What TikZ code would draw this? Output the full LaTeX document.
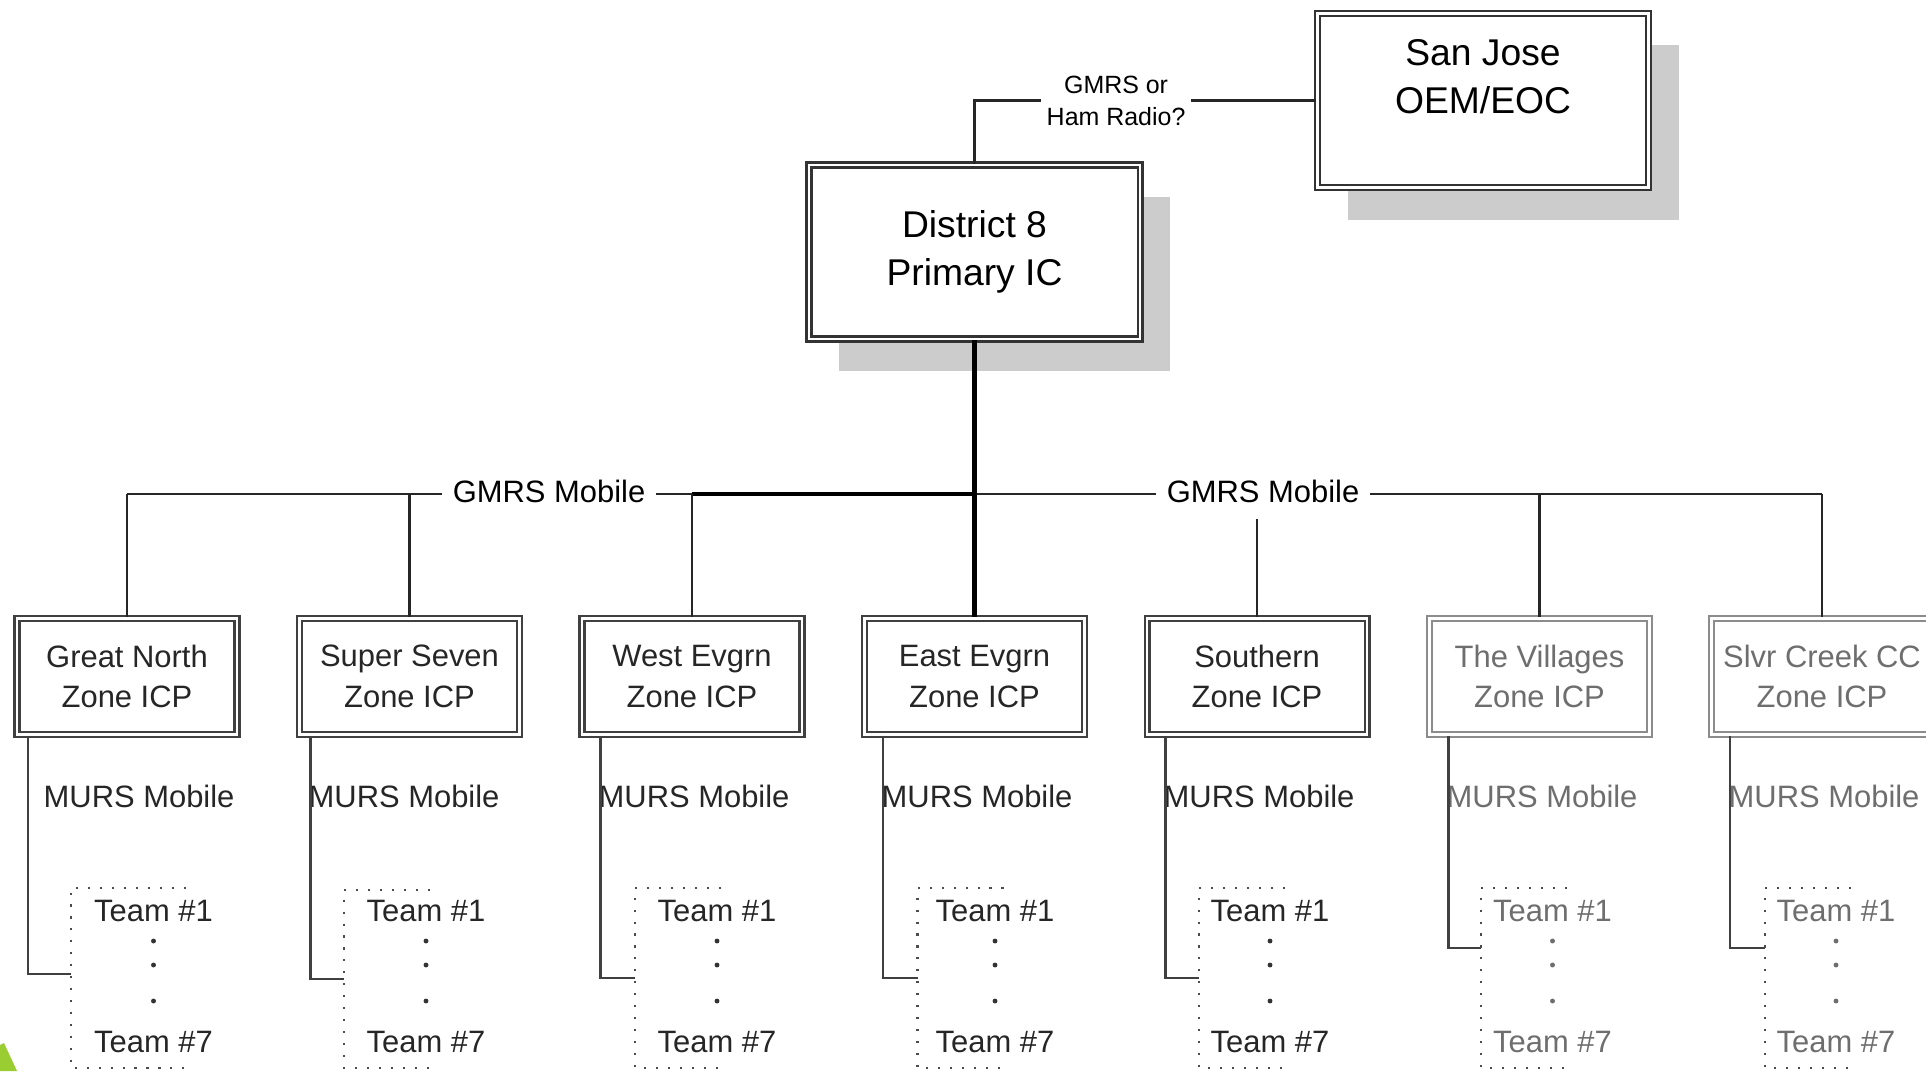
\documentclass[tikz,border=0pt]{standalone}
\usepackage{fontspec}
\setmainfont{Liberation Sans}
\usepackage{tikz}
\usetikzlibrary{shadows}
\definecolor{shade}{HTML}{CCCCCC}
\definecolor{dim}{HTML}{6E6E6E}
\definecolor{slide}{HTML}{9ACD32}
\tikzset{hq/.style={draw=black!80,fill=white,line width=0.6pt,double=white,double distance=0.8pt,minimum width=3.31cm,minimum height=1.74cm,align=center,font=\fontsize{10.6}{13.6}\selectfont,drop shadow={shadow xshift=0.3cm,shadow yshift=-0.32cm,fill=shade,opacity=1}}}
\tikzset{zone/.style={draw=black!75,fill=white,text=black!85,line width=0.6pt,double=white,double distance=0.8pt,minimum width=2.20cm,minimum height=1.16cm,align=center,font=\fontsize{8.8}{11.5}\selectfont}}
\tikzset{zonedim/.style={zone,draw=black!45,text=dim}}
\tikzset{murs/.style={anchor=west,inner sep=0pt,text=black!85,font=\fontsize{8.8}{11.5}\selectfont}}
\tikzset{team/.style={inner sep=0pt,text=black!85,font=\fontsize{8.8}{11.5}\selectfont}}
\tikzset{radio/.style={fill=white,align=center,inner sep=1.5pt,font=\fontsize{7.1}{9.1}\selectfont}}
\tikzset{buslbl/.style={fill=white,inner xsep=3pt,inner ysep=4.5pt,font=\fontsize{8.8}{11.5}\selectfont}}
\tikzset{busline/.style={draw=black!85,line width=0.8pt}}
\tikzset{trunk/.style={draw=black,line width=1.2pt}}
\tikzset{mursline/.style={draw=black!75,line width=0.6pt}}
\tikzset{grp/.style={draw=black!70,line width=0.8pt,dash pattern=on 0.6pt off 2.8pt}}

\begin{document}
\begin{tikzpicture}
    \useasboundingbox (0,0) rectangle (19.26,-10.71);
    \fill[slide] (0,-10.45) -- (0.04,-10.43) -- (0.17,-10.71) -- (0,-10.71) -- cycle;

    \node[hq] (sanjose) at (14.83,-1.005) {San Jose\\OEM/EOC\\\mbox{}};
    \node[hq] (district) at (9.745,-2.52) {District 8\\Primary IC};
    \draw[busline] (district.north) |- node[radio,pos=0.707] (radiolbl) {GMRS or\\Ham Radio?} (sanjose.west);

    \node[zone] (greatnorth) at (1.27,-6.765) {Great North\\Zone ICP};
    \node[zone] (superseven) at (4.095,-6.765) {Super Seven\\Zone ICP};
    \node[zone] (westevgrn) at (6.92,-6.765) {West Evgrn\\Zone ICP};
    \node[zone] (eastevgrn) at (9.745,-6.765) {East Evgrn\\Zone ICP};
    \node[zone] (southern) at (12.57,-6.765) {Southern\\Zone ICP};
    \node[zonedim] (villages) at (15.395,-6.765) {The Villages\\Zone ICP};
    \node[zonedim] (slvrcreek) at (18.22,-6.765) {Slvr Creek CC\\Zone ICP};

    \coordinate (bus) at (9.745,-4.94);
    \draw[busline] (greatnorth.north |- bus) -- (slvrcreek.north |- bus);
    \draw[trunk] (district.south) -- (bus) -- (westevgrn.north |- bus);
    \node[buslbl] (gmrsL) at (5.49,-4.91) {GMRS Mobile};
    \node[buslbl] (gmrsR) at (12.63,-4.91) {GMRS Mobile};
    \draw[busline] (greatnorth.north |- bus) -- (greatnorth.north);
    \draw[busline] (superseven.north |- bus) -- (superseven.north);
    \draw[busline] (westevgrn.north |- bus) -- (westevgrn.north);
    \draw[trunk] (bus) -- (eastevgrn.north);
    \draw[busline] (southern.north |- gmrsR.south) -- (southern.north);
    \draw[busline] (villages.north |- bus) -- (villages.north);
    \draw[busline] (slvrcreek.north |- bus) -- (slvrcreek.north);

    \node[murs] (gn-murs) at (0.43,-7.96) {MURS Mobile};
    \coordinate (gn-grp) at (0.71,-9.74);
    \draw[mursline] ([xshift=0.12cm]greatnorth.south west) |- (gn-grp);
    \draw[grp] (1.86,-8.88) -- (0.71,-8.88) -- (0.71,-10.68) -- (1.86,-10.68);
    \node[team] (gn-t1) at (1.535,-9.11) {Team \#1};
    \node[team] (gn-t7) at (1.535,-10.416) {Team \#7};
    \foreach \y in {-9.41,-9.65,-10.01} \fill[black!80] (1.535,\y) circle (0.7pt);

    \node[murs] (ss-murs) at (3.08,-7.96) {MURS Mobile};
    \coordinate (ss-grp) at (3.44,-9.79);
    \draw[mursline] ([xshift=0.12cm]superseven.south west) |- (ss-grp);
    \draw[grp] (4.30,-8.90) -- (3.44,-8.90) -- (3.44,-10.68) -- (4.30,-10.68);
    \node[team] (ss-t1) at (4.26,-9.11) {Team \#1};
    \node[team] (ss-t7) at (4.26,-10.416) {Team \#7};
    \foreach \y in {-9.41,-9.65,-10.01} \fill[black!80] (4.26,\y) circle (0.7pt);

    \node[murs] (we-murs) at (5.98,-7.96) {MURS Mobile};
    \coordinate (we-grp) at (6.35,-9.78);
    \draw[mursline] ([xshift=0.195cm]westevgrn.south west) |- (we-grp);
    \draw[grp] (7.21,-8.88) -- (6.35,-8.88) -- (6.35,-10.68) -- (7.21,-10.68);
    \node[team] (we-t1) at (7.17,-9.11) {Team \#1};
    \node[team] (we-t7) at (7.17,-10.416) {Team \#7};
    \foreach \y in {-9.41,-9.65,-10.01} \fill[black!80] (7.17,\y) circle (0.7pt);

    \node[murs] (ee-murs) at (8.81,-7.96) {MURS Mobile};
    \coordinate (ee-grp) at (9.175,-9.78);
    \draw[mursline] ([xshift=0.195cm]eastevgrn.south west) |- (ee-grp);
    \draw[grp] (10.035,-8.88) -- (9.175,-8.88) -- (9.175,-10.68) -- (10.035,-10.68);
    \node[team] (ee-t1) at (9.95,-9.11) {Team \#1};
    \node[team] (ee-t7) at (9.95,-10.416) {Team \#7};
    \foreach \y in {-9.41,-9.65,-10.01} \fill[black!80] (9.95,\y) circle (0.7pt);

    \node[murs] (so-murs) at (11.63,-7.96) {MURS Mobile};
    \coordinate (so-grp) at (11.99,-9.78);
    \draw[mursline] ([xshift=0.195cm]southern.south west) |- (so-grp);
    \draw[grp] (12.85,-8.88) -- (11.99,-8.88) -- (11.99,-10.68) -- (12.85,-10.68);
    \node[team] (so-t1) at (12.70,-9.11) {Team \#1};
    \node[team] (so-t7) at (12.70,-10.416) {Team \#7};
    \foreach \y in {-9.41,-9.65,-10.01} \fill[black!80] (12.70,\y) circle (0.7pt);

    \node[murs,text=dim] (tv-murs) at (14.46,-7.96) {MURS Mobile};
    \coordinate (tv-grp) at (14.81,-9.48);
    \draw[mursline] ([xshift=0.20cm]villages.south west) |- (tv-grp);
    \draw[grp] (15.67,-8.88) -- (14.81,-8.88) -- (14.81,-10.68) -- (15.67,-10.68);
    \node[team,text=dim] (tv-t1) at (15.525,-9.11) {Team \#1};
    \node[team,text=dim] (tv-t7) at (15.525,-10.416) {Team \#7};
    \foreach \y in {-9.41,-9.65,-10.01} \fill[dim] (15.525,\y) circle (0.7pt);

    \node[murs,text=dim] (sc-murs) at (17.28,-7.96) {MURS Mobile};
    \coordinate (sc-grp) at (17.65,-9.48);
    \draw[mursline] ([xshift=0.195cm]slvrcreek.south west) |- (sc-grp);
    \draw[grp] (18.51,-8.88) -- (17.65,-8.88) -- (17.65,-10.68) -- (18.51,-10.68);
    \node[team,text=dim] (sc-t1) at (18.36,-9.11) {Team \#1};
    \node[team,text=dim] (sc-t7) at (18.36,-10.416) {Team \#7};
    \foreach \y in {-9.41,-9.65,-10.01} \fill[dim] (18.36,\y) circle (0.7pt);
\end{tikzpicture}
\end{document}
